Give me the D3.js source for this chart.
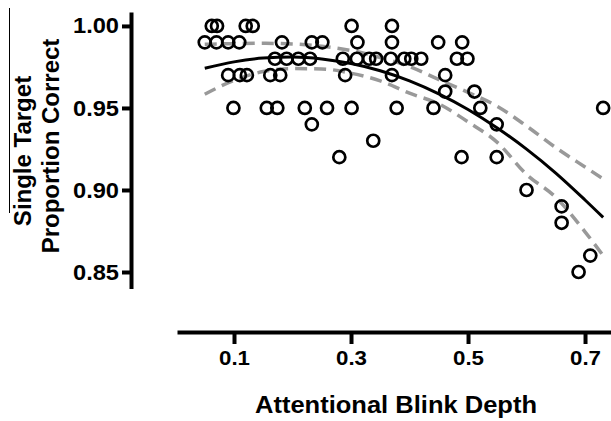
<!DOCTYPE html>
<html>
<head>
<meta charset="utf-8">
<script src="https://cdn.jsdelivr.net/npm/d3@7"></script>
<style>
  body { margin: 0; background: #fff; }
  svg { display: block; }
  text { font-family: "Liberation Sans", Arial, Helvetica, sans-serif; font-weight: bold; fill: #000; }
</style>
</head>
<body>
<svg id="chart" width="611" height="421"></svg>
<script>
// observed points: blink depth (x) vs single target accuracy (y)
const depth = [
  0.062, 0.071, 0.120, 0.132, 0.301, 0.370,
  0.050, 0.070, 0.090, 0.109, 0.182, 0.233, 0.251, 0.311, 0.370, 0.449, 0.490,
  0.170, 0.190, 0.210, 0.230, 0.286, 0.310, 0.331, 0.343, 0.368, 0.391, 0.403, 0.420, 0.481, 0.499,
  0.090, 0.110, 0.122, 0.162, 0.179, 0.290, 0.370, 0.461,
  0.461, 0.511,
  0.099, 0.156, 0.174, 0.221, 0.259, 0.301, 0.378, 0.441, 0.521, 0.731,
  0.233, 0.549,
  0.338,
  0.280, 0.489, 0.549,
  0.600, 0.660, 0.660, 0.709, 0.689
];
const accuracy = [
  1.00, 1.00, 1.00, 1.00, 1.00, 1.00,
  0.99, 0.99, 0.99, 0.99, 0.99, 0.99, 0.99, 0.99, 0.99, 0.99, 0.99,
  0.98, 0.98, 0.98, 0.98, 0.98, 0.98, 0.98, 0.98, 0.98, 0.98, 0.98, 0.98, 0.98, 0.98,
  0.97, 0.97, 0.97, 0.97, 0.97, 0.97, 0.97, 0.97,
  0.96, 0.96,
  0.95, 0.95, 0.95, 0.95, 0.95, 0.95, 0.95, 0.95, 0.95, 0.95,
  0.94, 0.94,
  0.93,
  0.92, 0.92, 0.92,
  0.90, 0.89, 0.88, 0.86, 0.85
];

// quadratic fit and its 95% band
const fitX  = [0.05, 0.10, 0.15, 0.20, 0.25, 0.30, 0.35, 0.40, 0.45, 0.50, 0.55, 0.60, 0.65, 0.70, 0.731];
const fitY  = [0.9742, 0.9781, 0.9804, 0.9810, 0.9799, 0.9771, 0.9727, 0.9665, 0.9586, 0.9491, 0.9378, 0.9249, 0.9103, 0.8939, 0.8833];
const upperY = [0.9888, 0.9892, 0.9894, 0.9890, 0.9876, 0.9850, 0.9808, 0.9752, 0.9673, 0.9595, 0.9510, 0.9390, 0.9258, 0.9140, 0.9068];
const lowerY = [0.9584, 0.9668, 0.9722, 0.9740, 0.9738, 0.9712, 0.9665, 0.9590, 0.9525, 0.9415, 0.9290, 0.9095, 0.8955, 0.8745, 0.8600];

const xTicks = [0.1, 0.3, 0.5, 0.7];
const yTicks = [0.85, 0.90, 0.95, 1.00];

const svg = d3.select('#chart');

//scales
const x = d3.scaleLinear().domain([0.00256, 0.7444]).range([177, 611]);
const y = d3.scaleLinear().domain([0.84, 1.0085]).range([288.4, 12]);

//axes
const xAxis = d3.axisBottom(x).tickValues(xTicks).tickFormat(d3.format('.1f'))
  .tickSizeInner(12).tickSizeOuter(0).tickPadding(6);
const yAxis = d3.axisLeft(y).tickValues(yTicks).tickFormat(d3.format('.2f'))
  .tickSizeInner(9).tickSizeOuter(0).tickPadding(3);

const xAxisGroup = svg.append('g').attr('transform', 'translate(0,332)').call(xAxis);
const yAxisGroup = svg.append('g').attr('transform', 'translate(131,0)').call(yAxis);

[xAxisGroup, yAxisGroup].forEach(g => {
  g.select('.domain').attr('stroke', '#000').attr('stroke-width', 4);
  g.selectAll('.tick line').attr('stroke', '#000').attr('stroke-width', 4);
  g.selectAll('.tick text')
    .style('font-family', '"Liberation Sans", Arial, sans-serif')
    .style('font-weight', 'bold')
    .style('font-size', '21px')
    .attr('fill', '#000');
});
xAxisGroup.selectAll('.tick text').attr('textLength', 31).attr('lengthAdjust', 'spacingAndGlyphs');
yAxisGroup.selectAll('.tick text')
  .style('font-size', '22px')
  .attr('textLength', 46).attr('lengthAdjust', 'spacingAndGlyphs');

//fit line and confidence band
const line = d3.line()
  .x((d, i) => x(fitX[i]))
  .y(d => y(d))
  .curve(d3.curveMonotoneX);

svg.append('path').datum(upperY)
  .attr('fill', 'none').attr('stroke', '#999').attr('stroke-width', 3.5)
  .attr('stroke-dasharray', '12,7').attr('d', line);
svg.append('path').datum(lowerY)
  .attr('fill', 'none').attr('stroke', '#999').attr('stroke-width', 3.5)
  .attr('stroke-dasharray', '12,7').attr('d', line);
svg.append('path').datum(fitY)
  .attr('fill', 'none').attr('stroke', '#000').attr('stroke-width', 3)
  .attr('d', line);

//points
svg.append('g').selectAll('circle')
  .data(depth)
  .enter()
  .append('circle')
  .attr('cx', d => x(d))
  .attr('cy', (d, i) => y(accuracy[i]))
  .attr('r', 6)
  .attr('fill', 'none')
  .attr('stroke', '#000')
  .attr('stroke-width', 2.7);

//axis titles
svg.append('text')
  .attr('x', 396).attr('y', 413)
  .attr('text-anchor', 'middle')
  .attr('textLength', 282).attr('lengthAdjust', 'spacingAndGlyphs')
  .style('font-size', '24px')
  .text('Attentional Blink Depth');

svg.append('text')
  .attr('transform', 'translate(31,151) rotate(-90)')
  .attr('text-anchor', 'middle')
  .style('font-size', '24px')
  .text('Single Target');

svg.append('text')
  .attr('transform', 'translate(59,146) rotate(-90)')
  .attr('text-anchor', 'middle')
  .style('font-size', '24px')
  .text('Proportion Correct');

// thin rule left of the title
svg.append('line')
  .attr('x1', 9.5).attr('x2', 9.5).attr('y1', 8).attr('y2', 213)
  .attr('stroke', '#000').attr('stroke-width', 1);
</script>
</body>
</html>
